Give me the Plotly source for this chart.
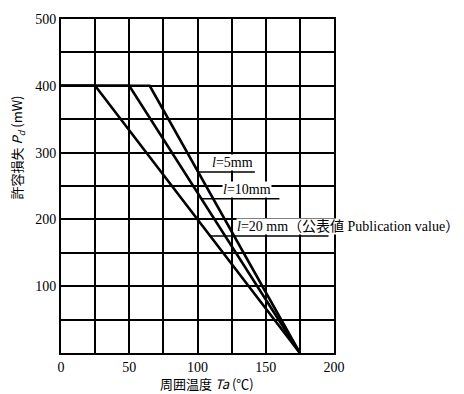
import plotly.graph_objects as go

# Derating curves: allowable power dissipation vs. ambient temperature
lead_labels = ["<i>l</i>=5mm", "<i>l</i>=10mm", "<i>l</i>=20 mm（公表値 Publication value）"]
knee_temps = [65, 50, 25]          # Ta where derating starts (°C)
pd_max = 400                       # flat region (mW)
ta_max = 175                       # zero-dissipation temperature (°C)

x_ticks = [0, 25, 50, 75, 100, 125, 150, 175, 200]
x_tick_text = ["0", "", "50", "", "100", "", "150", "", "200"]
y_ticks = [0, 50, 100, 150, 200, 250, 300, 350, 400, 450, 500]
y_tick_text = ["", "", "100", "", "200", "", "300", "", "400", "", "500"]

serif = "Liberation Serif"
cjk = "Noto Sans CJK JP"

fig = go.Figure()
for knee in knee_temps:
    fig.add_trace(go.Scatter(
        x=[0, knee, ta_max], y=[pd_max, pd_max, 0],
        mode="lines", line=dict(color="black", width=2.6),
        showlegend=False, hoverinfo="skip", cliponaxis=False))


def x_on_curve(knee, y):
    return knee + (pd_max - y) * (ta_max - knee) / pd_max


# label placement: (underline height, underline right end, text left x)
label_pos = [(271, 142, 110), (231, 160, 118), (175, 196, 128)]
for knee, text, (uy, ux_end, tx) in zip(knee_temps, lead_labels, label_pos):
    fig.add_annotation(
        x=tx, y=uy + 1, xref="x", yref="y", text=text, showarrow=False,
        xanchor="left", yanchor="bottom", bgcolor="white", borderpad=0,
        font=dict(family=serif + ", " + cjk, size=14, color="black"))
    fig.add_shape(type="line", xref="x", yref="y",
                  x0=x_on_curve(knee, uy), y0=uy, x1=ux_end, y1=uy,
                  line=dict(color="black", width=1.5))

# axis titles
fig.add_annotation(
    x=-0.158, y=0.615, xref="paper", yref="paper", textangle=-90, showarrow=False,
    xanchor="center", yanchor="middle",
    text="許容損失 <i>P<sub>d</sub></i> (mW)",
    font=dict(family=cjk + ", " + serif, size=13, color="black"))
fig.add_annotation(
    x=0.535, y=-0.092, xref="paper", yref="paper", showarrow=False,
    xanchor="center", yanchor="middle",
    text="周囲温度 <i>Ta</i> (℃)",
    font=dict(family=cjk + ", " + serif, size=13, color="black"))

axis_common = dict(
    showline=True, linecolor="black", linewidth=2, mirror=True,
    showgrid=True, gridcolor="black", gridwidth=1.5, zeroline=False,
    ticks="", tickfont=dict(family=serif, size=14, color="black"),
    tickmode="array")

fig.update_xaxes(range=[0, 200], tickvals=x_ticks, ticktext=x_tick_text, **axis_common)
fig.update_yaxes(range=[0, 500], tickvals=y_ticks, ticktext=y_tick_text, **axis_common)

fig.update_layout(
    width=464, height=394,
    margin=dict(l=61, r=130, t=15, b=41),
    paper_bgcolor="white", plot_bgcolor="white")

fig.write_html("out.html")
